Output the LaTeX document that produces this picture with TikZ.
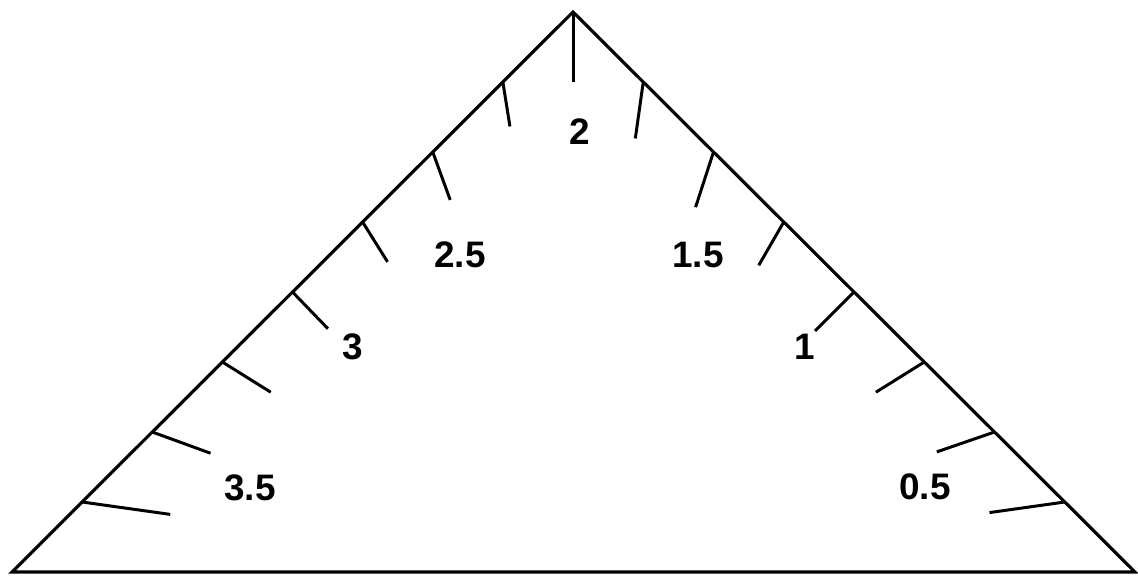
\documentclass[tikz,border=0pt]{standalone}
\usepackage{fontspec}
\setmainfont{Liberation Sans}
\usetikzlibrary{calc}

\tikzset{
  edge/.style={line width=1.8pt, line join=miter},
  tick/.style={line width=1.7pt},
  val/.style={font=\fontsize{21}{25}\selectfont\bfseries, inner sep=0pt}
}

\begin{document}
\begin{tikzpicture}[x=0.02cm, y=-0.02cm]
  \useasboundingbox (0,0) rectangle (1138,575);
  % corners of the scale
  \coordinate (apex) at (573,12);
  \coordinate (bl) at (12,572);
  \coordinate (br) at (1135,572);
  \draw[edge] (bl) -- (apex) -- (br) -- cycle;
  % ticks, left side
  \foreach \k/\a/\l in {1/8/89, 2/20/62, 3/32/57, 4/46/51, 5/58/47, 6/70/51, 7/81/45}
    \draw[tick] ($(bl)!\k/8!(apex)$) -- ++(\a:\l);
  % ticks, right side
  \foreach \k/\a/\l in {1/8/76, 2/19/61, 3/32/57, 4/45/55, 5/60/50, 6/72/58, 7/82/57}
    \draw[tick] ($(br)!\k/8!(apex)$) -- ++(180-\a:\l);
  \draw[tick] (apex) -- ++(90:70);
  % values
  \node[val] (v35) at (250,488) {3.5};
  \node[val] (v3)  at (353,347) {3};
  \node[val] (v25) at (460,255) {2.5};
  \node[val] (v2)  at (580,132) {2};
  \node[val] (v15) at (698,255) {1.5};
  \node[val] (v1)  at (805,347) {1};
  \node[val] (v05) at (925,487) {0.5};
\end{tikzpicture}
\end{document}
